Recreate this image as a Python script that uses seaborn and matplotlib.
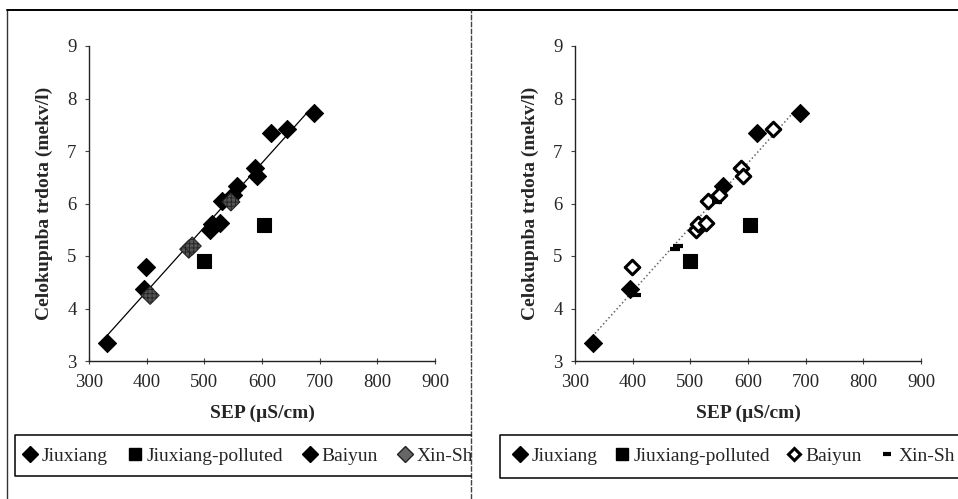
import numpy as np
import pandas as pd
import matplotlib
matplotlib.use("Agg")
import matplotlib.pyplot as plt
from matplotlib.lines import Line2D
import seaborn as sns

# data (same samples, different symbol styles)
jiux_sep = [332, 395, 556, 615, 691]
jiux_hard = [3.35, 4.38, 6.34, 7.34, 7.73]
poll_sep = [500, 604]
poll_hard = [4.90, 5.59]
baiy_sep = [399, 509, 513, 528, 531, 550, 588, 592, 643]
baiy_hard = [4.80, 5.50, 5.61, 5.62, 6.04, 6.17, 6.68, 6.53, 7.42]
xin_sep = [406, 473, 479, 546]
xin_hard = [4.25, 5.13, 5.19, 6.03]
fit_range = [330, 680]

sites = ["Jiuxiang", "Jiuxiang-polluted", "Baiyun", "Xin-Sh"]
df = pd.concat([
    pd.DataFrame({"site": "Jiuxiang", "sep": jiux_sep, "hard": jiux_hard}),
    pd.DataFrame({"site": "Jiuxiang-polluted", "sep": poll_sep, "hard": poll_hard}),
    pd.DataFrame({"site": "Baiyun", "sep": baiy_sep, "hard": baiy_hard}),
    pd.DataFrame({"site": "Xin-Sh", "sep": xin_sep, "hard": xin_hard}),
], ignore_index=True)

sns.set_style("ticks")
plt.rcParams["font.family"] = ["Liberation Serif", "DejaVu Serif"]
plt.rcParams["hatch.color"] = "#dddddd"
plt.rcParams["hatch.linewidth"] = 0.6

W, H = 958, 499
fig = plt.figure(figsize=(W / 100, H / 100), dpi=100)

# fitted line on the unpolluted samples
clean = df[df["site"] != "Jiuxiang-polluted"]
slope, icpt = np.polyfit(clean["sep"], clean["hard"], 1)
fit = pd.DataFrame({"sep": fit_range})
fit["hard"] = icpt + slope * fit["sep"]

styles = {
    "left": {
        "Jiuxiang": dict(marker="D", s=85, color="black", edgecolor="black"),
        "Jiuxiang-polluted": dict(marker="s", s=95, color="black", edgecolor="black"),
        "Baiyun": dict(marker="D", s=85, color="black", edgecolor="black"),
        "Xin-Sh": dict(marker="D", s=85, color="#555555", edgecolor="#222222", hatch="++++"),
    },
    "right": {
        "Jiuxiang": dict(marker="D", s=85, color="black", edgecolor="black"),
        "Jiuxiang-polluted": dict(marker="s", s=95, color="black", edgecolor="black"),
        "Baiyun": dict(marker="D", s=55, color="white", edgecolor="black", linewidth=2.2),
        "Xin-Sh": dict(marker="_", s=60, color="black", linewidth=3),
    },
}


def px(x0, y0, x1, y1):
    return [x0 / W, 1 - y1 / H, (x1 - x0) / W, (y1 - y0) / H]


panels = [("left", 89, 16, 1.1, "-", "black", 0.9),
          ("right", 575, 506, 0.95, ":", "#666666", 1.1)]
for name, left, lx, cs, ls, lc, lw in panels:
    ax = fig.add_axes(px(left, 46, left + 346, 361))
    sns.lineplot(data=fit, x="sep", y="hard", ax=ax, color=lc, linestyle=ls,
                 linewidth=lw, zorder=1)
    for site in sites:
        sub = df[df["site"] == site]
        sns.scatterplot(data=sub, x="sep", y="hard", ax=ax, legend=False,
                        zorder=3, **styles[name][site])
    ax.set_xlim(300, 900)
    ax.set_ylim(3, 9)
    ax.set_xticks(range(300, 901, 100))
    ax.set_yticks(range(3, 10))
    ax.tick_params(axis="both", labelsize=13.5, length=3, width=0.8, pad=6, color="#444444")
    ax.tick_params(axis="x", direction="inout", length=5, pad=7)
    for sp in ["top", "right"]:
        ax.spines[sp].set_visible(False)
    for sp in ["left", "bottom"]:
        ax.spines[sp].set_linewidth(1.0)
        ax.spines[sp].set_color("#222222")
    ax.set_xlabel("SEP (µS/cm)", fontsize=14, fontweight="bold", labelpad=10)
    ax.set_ylabel("Celokupnba trdota (mekv/l)", fontsize=14, fontweight="bold", labelpad=10)

    # legend
    handles = []
    for site in sites:
        st = styles[name][site]
        mk = st["marker"]
        if mk == "_":
            h = Line2D([], [], linestyle="none", marker="_", markersize=6,
                       markeredgewidth=3, color="black")
        else:
            h = Line2D([], [], linestyle="none", marker=mk,
                       markersize=8 if mk == "s" else (6.5 if st["color"] == "white" else 8),
                       markerfacecolor=st["color"], markeredgecolor=st["edgecolor"],
                       markeredgewidth=st.get("linewidth", 1))
            if "hatch" in st:
                h.set_markerfacecolor("#666666")
        handles.append(h)
    fig.legend(handles, sites, loc="center left", ncol=4,
               bbox_to_anchor=(lx / W, 1 - 456 / H), frameon=False,
               fontsize=14, handlelength=0.6, handletextpad=0.3,
               columnspacing=cs, borderaxespad=0)

# page frame and legend boxes
frame_kw = dict(color="#333333", linewidth=1.0, transform=fig.transFigure)
fig.add_artist(Line2D([7 / W, 7 / W], [0, 1 - 10 / H], **frame_kw))
fig.add_artist(Line2D([7 / W, 1], [1 - 10 / H, 1 - 10 / H], color="black",
                      linewidth=1.4, transform=fig.transFigure))
cover = plt.Rectangle((472 / W, 1 - 478 / H), 26 / W, 45 / H,
                      transform=fig.transFigure, color="white", zorder=20)
fig.add_artist(cover)
fig.add_artist(Line2D([471 / W, 471 / W], [0, 1 - 10 / H], color="#444444", zorder=21,
                      linewidth=1.0, linestyle=(0, (4, 1)), transform=fig.transFigure))
box_kw = dict(color="black", linewidth=1.1, transform=fig.transFigure, zorder=21)
for x0, x1, y0, y1 in [(15, 471, 435, 476), (500, 960, 435, 478)]:
    fig.add_artist(Line2D([x1 / W, x0 / W, x0 / W, x1 / W],
                          [1 - y0 / H, 1 - y0 / H, 1 - y1 / H, 1 - y1 / H], **box_kw))

fig.savefig("out.png", dpi=100, facecolor="white")
